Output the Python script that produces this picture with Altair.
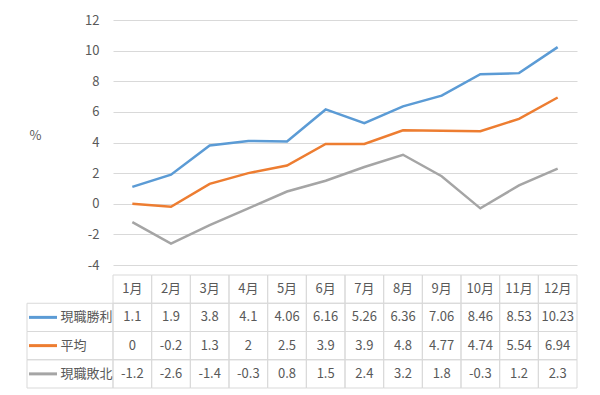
import altair as alt
import pandas as pd

months = ["1月", "2月", "3月", "4月", "5月", "6月", "7月", "8月", "9月", "10月", "11月", "12月"]
series_names = ["現職勝利", "平均", "現職敗北"]
win = [1.1, 1.9, 3.8, 4.1, 4.06, 6.16, 5.26, 6.36, 7.06, 8.46, 8.53, 10.23]
avg = [0, -0.2, 1.3, 2, 2.5, 3.9, 3.9, 4.8, 4.77, 4.74, 5.54, 6.94]
loss = [-1.2, -2.6, -1.4, -0.3, 0.8, 1.5, 2.4, 3.2, 1.8, -0.3, 1.2, 2.3]
colors = ["#5b9bd5", "#ed7d31", "#a5a5a5"]
y_ticks = [-4, -2, 0, 2, 4, 6, 8, 10, 12]

FONT = "Noto Sans CJK JP"
TXT = "#595959"
GRID = "#d9d9d9"

rows = []
for name, vals in zip(series_names, [win, avg, loss]):
    for m, v in zip(months, vals):
        rows.append({"month": m, "series": name, "row": name, "value": v, "label": f"{v:g}"})
df = pd.DataFrame(rows)

header = pd.DataFrame({"month": months, "row": [" "] * len(months), "label": months})
tbl = pd.concat([header, df[["month", "row", "label"]]], ignore_index=True)
legend_df = pd.DataFrame({"row": series_names})

row_domain = [" "] + series_names
color_scale = alt.Scale(domain=series_names, range=colors)

top = alt.Chart(df).mark_line(strokeWidth=2.5).encode(
    x=alt.X("month:N", sort=months, scale=alt.Scale(type="point", padding=0.5), axis=None),
    y=alt.Y(
        "value:Q",
        scale=alt.Scale(domain=[-4, 12], nice=False),
        axis=alt.Axis(
            values=y_ticks, labelExpr="toString(datum.value)",
            title="%", titleAngle=0, titleFont=FONT, titleFontSize=13,
            titleFontWeight="normal", titleColor=TXT, titlePadding=3,
            grid=True, gridColor=GRID, domain=False, ticks=False,
            labelPadding=14, minExtent=75, maxExtent=75,
            labelFont=FONT, labelFontSize=13, labelColor=TXT,
        ),
    ),
    color=alt.Color("series:N", scale=color_scale, legend=None),
).properties(width=464, height=245)

x_tbl = alt.X("month:N", sort=months, scale=alt.Scale(paddingInner=0, paddingOuter=0), axis=None)
y_tbl = alt.Y(
    "row:N", sort=row_domain,
    scale=alt.Scale(domain=row_domain, paddingInner=0, paddingOuter=0),
    axis=alt.Axis(title=None, domain=False, ticks=False, labelPadding=53, labelAlign="left",
                  labelFont=FONT, labelFontSize=13, labelColor=TXT, zindex=1),
)

cells = alt.Chart(tbl).mark_rect(fillOpacity=0, stroke=GRID, strokeWidth=1).encode(x=x_tbl, y=y_tbl)
texts = alt.Chart(tbl).mark_text(font=FONT, fontSize=13, color=TXT).encode(x=x_tbl, y=y_tbl, text="label:N")
leg_cells = alt.Chart(legend_df).mark_rect(fillOpacity=0, stroke=GRID, strokeWidth=1).encode(
    x=alt.value(-86), x2=alt.value(0), y=y_tbl
)
swatch = alt.Chart(legend_df).mark_rule(strokeWidth=3).encode(
    x=alt.value(-84), x2=alt.value(-56), y=y_tbl,
    color=alt.Color("row:N", scale=color_scale, legend=None),
)
bottom = alt.layer(cells, leg_cells, swatch, texts).properties(width=464, height=113)

chart = alt.vconcat(top, bottom, spacing=2).properties(
    padding={"left": 18, "top": 6, "right": 5, "bottom": 5}
).configure_view(stroke=None)

chart.save("out.html", embed_options={"renderer": "svg", "actions": False})
